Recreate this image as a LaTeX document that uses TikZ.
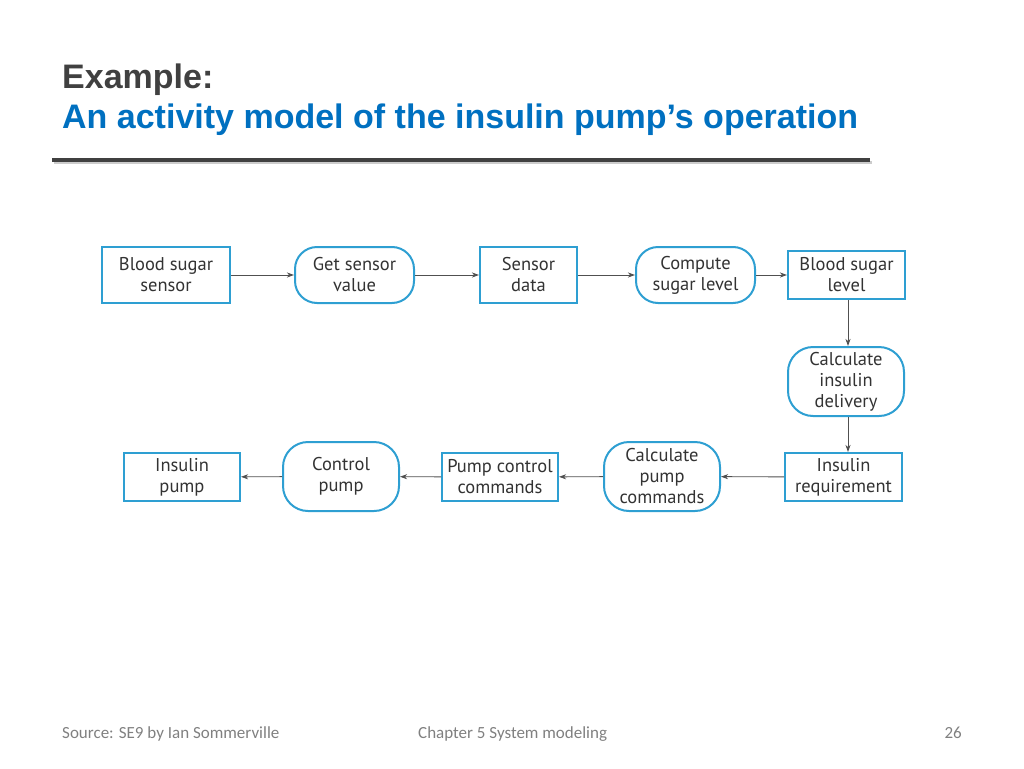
\documentclass[tikz,border=0pt]{standalone}
\usepackage{fontspec}
\setmainfont{Liberation Sans}
\newfontfamily\boxfont{PT Sans}
\newfontfamily\footfont{Carlito}
\usetikzlibrary{arrows.meta}
\definecolor{titlegray}{HTML}{404040}
\definecolor{titleblue}{HTML}{0070C0}
\definecolor{boxblue}{HTML}{2E9FD2}
\definecolor{arrowgray}{HTML}{505050}
\definecolor{footgray}{HTML}{808080}
\tikzset{
  objbox/.style={draw=boxblue, line width=2pt, fill=white, inner sep=0pt, align=center,
    font=\boxfont\fontsize{18.5}{21}\selectfont, text=black!80},
  actbox/.style={objbox, rounded corners=22pt},
  flow/.style={draw=arrowgray, line width=0.9pt, -{Stealth[length=7pt,width=5pt,inset=2pt]}},
  foot/.style={inner sep=0pt, text=footgray, font=\footfont\fontsize{17}{19}\selectfont},
}
\begin{document}
\begin{tikzpicture}[x=1pt,y=-1pt]
\useasboundingbox (0,0) rectangle (1024,768);
% title
\node[anchor=base west, inner sep=0pt, text=titlegray, font=\bfseries\fontsize{34}{38}\selectfont] (t1) at (62,88) {Example:};
\node[anchor=base west, inner sep=0pt, text=titleblue, font=\bfseries\fontsize{34}{38}\selectfont] (t2) at (62,128) {An activity model of the insulin pump’s operation};
\fill[black!20] (54,161) rectangle (872,164);
\fill[titlegray] (52,157.5) rectangle (870,161.5);
% nodes
\node[objbox, minimum width=128pt, minimum height=56pt] (bss) at (166,275) {Blood sugar\\sensor};
\node[actbox, minimum width=119pt, minimum height=56pt] (gsv) at (354.5,275) {Get sensor\\value};
\node[objbox, minimum width=97pt, minimum height=56pt] (sd) at (528.5,275) {Sensor\\data};
\node[actbox, minimum width=119pt, minimum height=56pt] (csl) at (695.5,275) {Compute\\sugar level};
\node[objbox, minimum width=117pt, minimum height=48pt] (bsl) at (846.5,275) {Blood sugar\\level};
\node[actbox, rounded corners=25pt, minimum width=116pt, minimum height=69pt] (cid) at (846,381.5) {Calculate\\insulin\\delivery};
\node[objbox, minimum width=117pt, minimum height=48pt] (ir) at (843.5,477) {Insulin\\requirement};
\node[actbox, rounded corners=25pt, minimum width=116pt, minimum height=69pt] (cpc) at (662,476.5) {Calculate\\pump\\commands};
\node[objbox, minimum width=116pt, minimum height=48pt] (pcc) at (500,477) {Pump control\\commands};
\node[actbox, rounded corners=25pt, minimum width=116pt, minimum height=69pt] (cp) at (341,476.5) {Control\\pump};
\node[objbox, minimum width=116pt, minimum height=48pt] (ip) at (182,477) {Insulin\\pump};
% flows
\draw[flow] (bss) -- (gsv);
\draw[flow] (gsv) -- (sd);
\draw[flow] (sd) -- (csl);
\draw[flow] (csl) -- (bsl);
\draw[flow] ([xshift=1.5pt]bsl.south) -- ([xshift=2pt]cid.north);
\draw[flow] ([xshift=2pt]cid.south) -- ([xshift=2pt]cid.south |- ir.north);
\draw[flow] (ir) -- (cpc);
\draw[flow] (cpc) -- (pcc);
\draw[flow] (pcc) -- (cp);
\draw[flow] (cp) -- (ip);
% footer
\node[foot, anchor=base west] (f1) at (62,738) {Source: SE9 by Ian Sommerville};
\node[foot, anchor=base west] (f2) at (418,738) {Chapter 5 System modeling};
\node[foot, anchor=base east] (f3) at (962,738) {26};
\end{tikzpicture}
\end{document}
